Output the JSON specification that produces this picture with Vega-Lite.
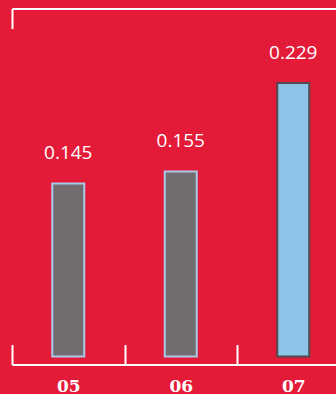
{
  "$schema": "https://vega.github.io/schema/vega-lite/v6.json",
  "width": 324,
  "height": 348,
  "autosize": "none",
  "padding": {"left": 12, "top": 8.5, "right": 0, "bottom": 37.5},
  "background": "#E41B38",
  "config": {"view": {"stroke": null}},
  "data": {
    "values": [
      {"year": "05", "value": 0.145, "highlight": "no"},
      {"year": "06", "value": 0.155, "highlight": "no"},
      {"year": "07", "value": 0.229, "highlight": "yes"}
    ]
  },
  "encoding": {
    "x": {
      "field": "year",
      "type": "nominal",
      "scale": {"range": [0, 337.5], "paddingInner": 0, "paddingOuter": 0}
    }
  },
  "layer": [
    {
      "mark": {"type": "bar", "size": 32, "strokeWidth": 2},
      "encoding": {
        "x": {
          "field": "year",
          "type": "nominal",
          "axis": {
            "orient": "bottom",
            "title": null,
            "offset": 8,
            "domainColor": "white",
            "domainWidth": 2,
            "tickColor": "white",
            "tickWidth": 2,
            "tickSize": -20,
            "tickBand": "extent",
            "labelColor": "white",
            "labelFont": "DejaVu Serif",
            "labelFontWeight": "bold",
            "labelFontSize": 17,
            "labelBaseline": "alphabetic",
            "labelPadding": 47,
            "labelAngle": 0
          }
        },
        "y": {
          "field": "value",
          "type": "quantitative",
          "scale": {"domain": [0, 0.2915], "nice": false, "zero": false},
          "axis": null
        },
        "fill": {
          "field": "highlight",
          "type": "nominal",
          "scale": {"domain": ["no", "yes"], "range": ["#736C6F", "#8EC3E8"]},
          "legend": null
        },
        "stroke": {
          "field": "highlight",
          "type": "nominal",
          "scale": {"domain": ["no", "yes"], "range": ["#A9C9E9", "#4F4B4E"]},
          "legend": null
        }
      }
    },
    {
      "mark": {
        "type": "text",
        "dy": -24,
        "baseline": "alphabetic",
        "align": "center",
        "font": "Open Sans",
        "fontSize": 19,
        "color": "white"
      },
      "encoding": {
        "x": {
          "field": "year",
          "type": "nominal",
          "axis": {
            "orient": "top",
            "title": null,
            "values": ["05"],
            "bandPosition": 0,
            "domainColor": "white",
            "domainWidth": 2,
            "tickColor": "white",
            "tickWidth": 2,
            "tickSize": -20,
            "labels": false
          }
        },
        "y": {"field": "value", "type": "quantitative"},
        "text": {"field": "value", "type": "quantitative", "format": ".3f"}
      }
    }
  ],
  "resolve": {"axis": {"x": "independent"}}
}
